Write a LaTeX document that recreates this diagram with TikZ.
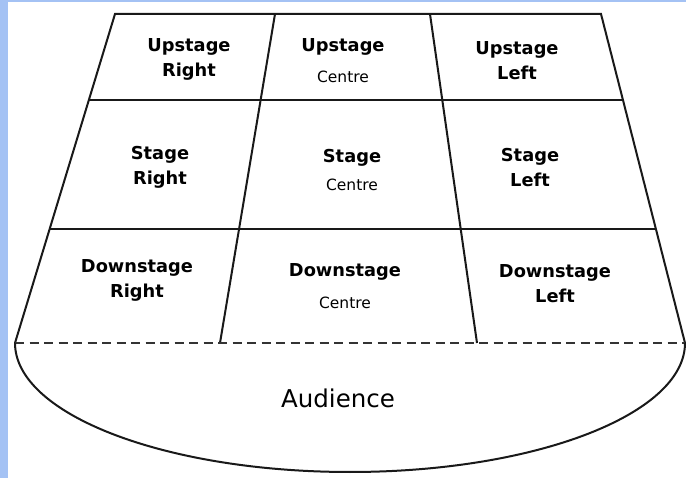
\documentclass[tikz,border=0pt]{standalone}
\usepackage{fontspec}
\setmainfont{DejaVu Sans}
\usetikzlibrary{positioning,calc}
\definecolor{frameblue}{HTML}{A4C2F4}

\begin{document}
\begin{tikzpicture}[
  x=1pt, y=-1pt,
  edge/.style     = {draw=black!90, line width=2pt},
  cutline/.style  = {draw=black!80, line width=1.8pt,
                     dash pattern=on 9pt off 5.5pt},
  area/.style     = {align=center, inner sep=0pt,
                     font=\fontsize{17.8}{25}\selectfont\bfseries},
  sub/.style      = {inner sep=0pt, font=\fontsize{15.5}{17}\selectfont},
  crowd/.style    = {inner sep=0pt, font=\fontsize{24.5}{27}\selectfont},
]
% page and blue frame
\fill[white] (0,0) rectangle (686,478);
\fill[frameblue] (0,0) rectangle (8,478);
\fill[frameblue] (0,0) rectangle (686,2);
\useasboundingbox (0,0) rectangle (686,478);

% corners of the stage
\coordinate (tl) at (115,14);
\coordinate (tr) at (601,14);
\coordinate (bl) at (15,343);
\coordinate (br) at (685,343);
\coordinate (ltop) at (275,14);
\coordinate (lbot) at (220,343);
\coordinate (rtop) at (430,14);
\coordinate (rbot) at (477,343);

% row dividers
\coordinate (r1l) at ($(tl)!0.2614!(bl)$);
\coordinate (r1r) at ($(tr)!0.2614!(br)$);
\coordinate (r2l) at ($(tl)!0.6535!(bl)$);
\coordinate (r2r) at ($(tr)!0.6535!(br)$);

\draw[edge] (bl) -- (tl) -- (tr) -- (br);
\draw[edge] (r1l) -- (r1r);
\draw[edge] (r2l) -- (r2r);
\draw[edge] (ltop) -- (lbot);
\draw[edge] (rtop) -- (rbot);
\draw[cutline] (bl) -- (br);
\draw[edge] (bl) arc[start angle=180, end angle=0,
                     x radius=335, y radius=129];

% areas
\node[area] (usr) at (189,59.5) {Upstage\\Right};
\node[area] (usc) at (343,47)   {Upstage};
\node[sub]  (usc-c) at (343,77) {Centre};
\node[area] (usl) at (517,61)   {Upstage\\Left};

\node[area] (sr) at (160,167.5) {Stage\\Right};
\node[area] (sc) at (352,158)   {Stage};
\node[sub]  (sc-c) at (352,185) {Centre};
\node[area] (sl) at (530,167.5) {Stage\\Left};

\node[area] (dsr) at (137,280)  {Downstage\\Right};
\node[area] (dsc) at (345,272)  {Downstage};
\node[sub]  (dsc-c) at (345,303) {Centre};
\node[area] (dsl) at (555,284)  {Downstage\\Left};

\node[crowd] (aud) at (338,398) {Audience};
\end{tikzpicture}
\end{document}
